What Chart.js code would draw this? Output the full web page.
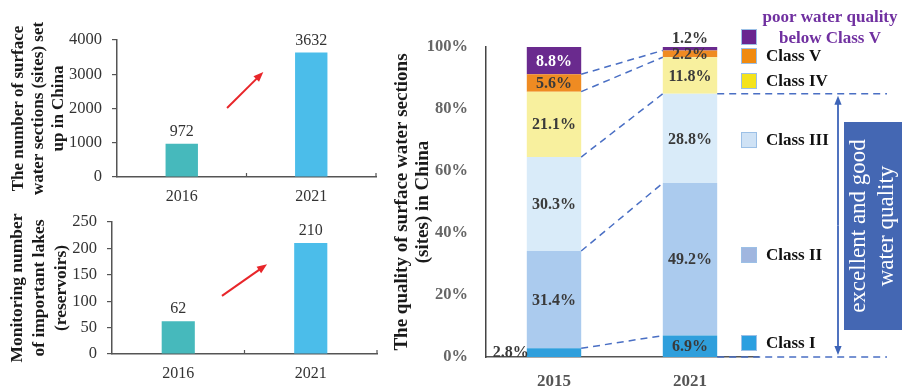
<!DOCTYPE html>
<html>
<head>
<meta charset="utf-8">
<script src="https://cdn.jsdelivr.net/npm/chart.js@4.4.1/dist/chart.umd.min.js"></script>
<style>
  html, body { margin: 0; padding: 0; background: #fff; }
  body { width: 903px; height: 387px; position: relative; overflow: hidden; }
  .quadro { position: absolute; }
</style>
</head>
<body>
<div class="quadro" style="left:0;top:0;width:380px;height:206px"><canvas id="graficoSecoes"></canvas></div>
<div class="quadro" style="left:0;top:200px;width:380px;height:187px"><canvas id="graficoLagos"></canvas></div>
<div class="quadro" style="left:370px;top:0;width:533px;height:387px"><canvas id="graficoQualidade"></canvas></div>

<script>
// dados
const anosMonitoramento = ["2016", "2021"];
const secoesAgua = [972, 3632];
const lagosMonitorados = [62, 210];

const anosQualidade = ["2015", "2021"];
const nomesClasses = ["Class I", "Class II", "Class III", "Class IV", "Class V", "poor water quality below Class V"];
const classeI = [2.8, 6.9];
const classeII = [31.4, 49.2];
const classeIII = [30.3, 28.8];
const classeIV = [21.1, 11.8];
const classeV = [5.6, 2.2];
const abaixoClasseV = [8.8, 1.2];

const SERIF = "'Liberation Serif', 'Times New Roman', serif";
const coresAnos = ["#46b9bc", "#4bbdea"];
const coresClasses = ["#2f9fdc", "#abcbee", "#d9ebf9", "#f8f09e", "#ef8b22", "#6a2a8e"];
const coresLegenda = ["#2b9fe0", "#a0b6df", "#cfe2f5", "#f4e31c", "#f08a10", "#6a2590"];

function desenharSeta(ctx, x1, y1, x2, y2, cor, larg, ponta) {
  const a = Math.atan2(y2 - y1, x2 - x1);
  const c = Math.cos(a), s = Math.sin(a);
  ctx.strokeStyle = cor;
  ctx.fillStyle = cor;
  ctx.lineWidth = larg;
  ctx.beginPath();
  ctx.moveTo(x1, y1);
  ctx.lineTo(x2 - ponta * 0.8 * c, y2 - ponta * 0.8 * s);
  ctx.stroke();
  ctx.beginPath();
  ctx.moveTo(x2, y2);
  ctx.lineTo(x2 - ponta * c + ponta * 0.4 * s, y2 - ponta * s - ponta * 0.4 * c);
  ctx.lineTo(x2 - ponta * c - ponta * 0.4 * s, y2 - ponta * s + ponta * 0.4 * c);
  ctx.closePath();
  ctx.fill();
}

// rótulos acima das barras, marcas internas no eixo x e seta vermelha
const extrasBarras = {
  id: "extrasBarras",
  afterDatasetsDraw(chart, args, opts) {
    const ctx = chart.ctx;
    const xs = chart.scales.x, ys = chart.scales.y;
    const valores = chart.data.datasets[0].data;
    ctx.save();
    ctx.font = "16px " + SERIF;
    ctx.fillStyle = "#333";
    ctx.textAlign = "center";
    ctx.textBaseline = "alphabetic";
    chart.getDatasetMeta(0).data.forEach((barra, i) => {
      ctx.fillText(String(valores[i]), barra.x, barra.y - 8);
    });

    ctx.strokeStyle = "#555";
    ctx.lineWidth = 1.2;
    [0.5, 1.5].forEach(v => {
      const px = xs.getPixelForValue(v);
      ctx.beginPath();
      ctx.moveTo(px, ys.bottom);
      ctx.lineTo(px, ys.bottom - 4);
      ctx.stroke();
    });

    const s = opts.seta;
    desenharSeta(ctx,
      xs.getPixelForValue(s[0]), ys.getPixelForValue(s[1]),
      xs.getPixelForValue(s[2]), ys.getPixelForValue(s[3]),
      "#e8262a", 2, 10);
    ctx.restore();
  }
};

function carregarGraficoBarras(id, valores, maximo, passo, titulo, fonteTitulo, alturaLinha, recuoTitulo, margens, larguraY, alturaX, seta) {
  new Chart(document.getElementById(id), {
    type: "bar",
    data: {
      labels: anosMonitoramento,
      datasets: [{
        data: valores,
        backgroundColor: coresAnos,
        barPercentage: 0.25,
        categoryPercentage: 1
      }]
    },
    options: {
      responsive: true,
      maintainAspectRatio: false,
      animation: false,
      layout: { padding: margens },
      plugins: {
        legend: { display: false },
        tooltip: { enabled: false },
        extrasBarras: { seta: seta }
      },
      scales: {
        x: {
          grid: { display: false },
          border: { color: "#555", width: 1.5 },
          ticks: { color: "#333", font: { family: SERIF, size: 16 }, padding: 2 },
          afterFit: (s) => { s.height = alturaX; }
        },
        y: {
          min: 0,
          max: maximo,
          ticks: {
            stepSize: passo,
            color: "#333",
            font: { family: SERIF, size: 16.5 },
            padding: 10,
            callback: (v) => String(v)
          },
          grid: { drawOnChartArea: false, tickLength: 5, color: "#555", lineWidth: 1.2 },
          border: { color: "#555", width: 1.5 },
          title: {
            display: true,
            text: titulo,
            color: "#1a1a1a",
            font: { family: SERIF, size: fonteTitulo, weight: "bold", lineHeight: alturaLinha },
            padding: { top: recuoTitulo, bottom: 0 }
          },
          afterFit: (s) => { s.width = larguraY; }
        }
      }
    },
    plugins: [extrasBarras]
  });
}

// rótulos de porcentagem, linhas tracejadas, legenda e faixa azul
const extrasQualidade = {
  id: "extrasQualidade",
  afterDatasetsDraw(chart) {
    const ctx = chart.ctx;
    const ys = chart.scales.y;
    const metas = chart.data.datasets.map((d, i) => chart.getDatasetMeta(i));
    ctx.save();

    // ligações tracejadas entre os limites acumulados das duas colunas
    ctx.strokeStyle = "#4a6fc4";
    ctx.lineWidth = 1.5;
    ctx.setLineDash([7, 5]);
    const b0 = metas[0].data[0], b1 = metas[0].data[1];
    const dir0 = b0.x + b0.width / 2, esq1 = b1.x - b1.width / 2, dir1 = b1.x + b1.width / 2;
    let acc0 = 0, acc1 = 0;
    for (let k = 0; k < chart.data.datasets.length - 1; k++) {
      acc0 += chart.data.datasets[k].data[0];
      acc1 += chart.data.datasets[k].data[1];
      ctx.beginPath();
      ctx.moveTo(dir0, ys.getPixelForValue(acc0));
      ctx.lineTo(esq1, ys.getPixelForValue(acc1));
      ctx.stroke();
    }
    // faixa de boa qualidade (classes I a III) em 2021
    const boa = classeI[1] + classeII[1] + classeIII[1];
    const fimTracejado = 517;
    [boa, 0].forEach(v => {
      const py = ys.getPixelForValue(v);
      ctx.beginPath();
      ctx.moveTo(dir1, py);
      ctx.lineTo(fimTracejado, py);
      ctx.stroke();
    });
    ctx.setLineDash([]);

    // seta dupla
    const xSeta = 468;
    const yTopo = ys.getPixelForValue(boa) + 2, yBase = ys.getPixelForValue(0) - 2;
    desenharSeta(ctx, xSeta, (yTopo + yBase) / 2, xSeta, yTopo, "#3d64b8", 1.8, 9);
    desenharSeta(ctx, xSeta, (yTopo + yBase) / 2, xSeta, yBase, "#3d64b8", 1.8, 9);

    // caixa azul
    ctx.fillStyle = "#4467b3";
    ctx.fillRect(474, 122, 58, 208);
    ctx.save();
    ctx.translate(503, 226);
    ctx.rotate(-Math.PI / 2);
    ctx.fillStyle = "#fff";
    ctx.font = "23px " + SERIF;
    ctx.textAlign = "center";
    ctx.textBaseline = "middle";
    ctx.fillText("excellent and good", 0, -14);
    ctx.fillText("water quality", 0, 14);
    ctx.restore();

    // porcentagens
    ctx.font = "bold 16px " + SERIF;
    ctx.textAlign = "center";
    ctx.textBaseline = "middle";
    chart.data.datasets.forEach((ds, i) => {
      metas[i].data.forEach((barra, j) => {
        const txt = ds.data[j] + "%";
        const topo = barra.y, base = barra.base;
        ctx.fillStyle = i === 5 && j === 0 ? "#fff" : "#3a3a3a";
        if (i === 0 && j === 0) {
          ctx.textAlign = "right";
          ctx.textBaseline = "alphabetic";
          ctx.fillText(txt, barra.x - barra.width / 2 + 2, base);
          ctx.textAlign = "center";
          ctx.textBaseline = "middle";
        } else if (i === 5 && j === 1) {
          ctx.textBaseline = "alphabetic";
          ctx.fillText(txt, barra.x, topo - 4);
          ctx.textBaseline = "middle";
        } else {
          ctx.fillText(txt, barra.x, (topo + base) / 2 + 1);
        }
      });
    });

    // legenda
    const yLegenda = [343, 255, 140, 81, 56, 37];
    nomesClasses.forEach((nome, i) => {
      const cy = yLegenda[i];
      ctx.fillStyle = coresLegenda[i];
      ctx.fillRect(371, cy - 8, 16, 16);
      ctx.strokeStyle = "#9cc0e6";
      ctx.lineWidth = 1;
      ctx.strokeRect(371.5, cy - 7.5, 15, 15);
      ctx.font = "bold 17px " + SERIF;
      ctx.textBaseline = "middle";
      if (i === 5) {
        ctx.fillStyle = "#7030a0";
        ctx.textAlign = "center";
        ctx.fillText("poor water quality", 460, 18);
        ctx.fillText("below Class V", 460, 39);
      } else {
        ctx.fillStyle = "#111";
        ctx.textAlign = "left";
        ctx.fillText(nome, 396, cy + 1);
      }
    });
    ctx.restore();
  }
};

function carregarGraficoQualidade() {
  const series = [classeI, classeII, classeIII, classeIV, classeV, abaixoClasseV];
  new Chart(document.getElementById("graficoQualidade"), {
    type: "bar",
    data: {
      labels: anosQualidade,
      datasets: series.map((valores, i) => ({
        label: nomesClasses[i],
        data: valores,
        backgroundColor: coresClasses[i],
        barPercentage: 0.4,
        categoryPercentage: 1
      }))
    },
    options: {
      responsive: true,
      maintainAspectRatio: false,
      animation: false,
      layout: { padding: { left: 0, right: 145, top: 47, bottom: 0 } },
      plugins: { legend: { display: false }, tooltip: { enabled: false } },
      scales: {
        x: {
          stacked: true,
          grid: { display: false },
          border: { color: "#555", width: 1.5 },
          ticks: { color: "#555", font: { family: SERIF, size: 17, weight: "bold" }, padding: 6 },
          afterFit: (s) => { s.height = 30; }
        },
        y: {
          stacked: true,
          min: 0,
          max: 100,
          ticks: {
            stepSize: 20,
            color: "#666",
            font: { family: SERIF, size: 16.5, weight: "bold" },
            padding: 10,
            callback: (v) => v + "%"
          },
          grid: { display: false },
          border: { color: "#444", width: 1.5 },
          title: {
            display: true,
            text: ["The quality of surface water sections", "(sites) in China"],
            color: "#1a1a1a",
            font: { family: SERIF, size: 19, weight: "bold", lineHeight: 1.12 },
            padding: { top: 21, bottom: 0 }
          },
          afterFit: (s) => { s.width = 116; }
        }
      }
    },
    plugins: [extrasQualidade]
  });
}

carregarGraficoBarras("graficoSecoes", secoesAgua, 4000, 1000,
  ["The number of surface", "water sections (sites) set", "up in China"],
  17, 1.2, 8, { left: 0, right: 4, top: 40, bottom: 0 }, 117, 29,
  [0.35, 2015, 0.63, 3066]);

carregarGraficoBarras("graficoLagos", lagosMonitorados, 250, 50,
  ["Monitoring number", "of important lakes", "(reservoirs)"],
  17.5, 1.25, 7, { left: 0, right: 3, top: 22, bottom: 0 }, 112, 33,
  [0.33, 110, 0.67, 170]);

carregarGraficoQualidade();
</script>
</body>
</html>
